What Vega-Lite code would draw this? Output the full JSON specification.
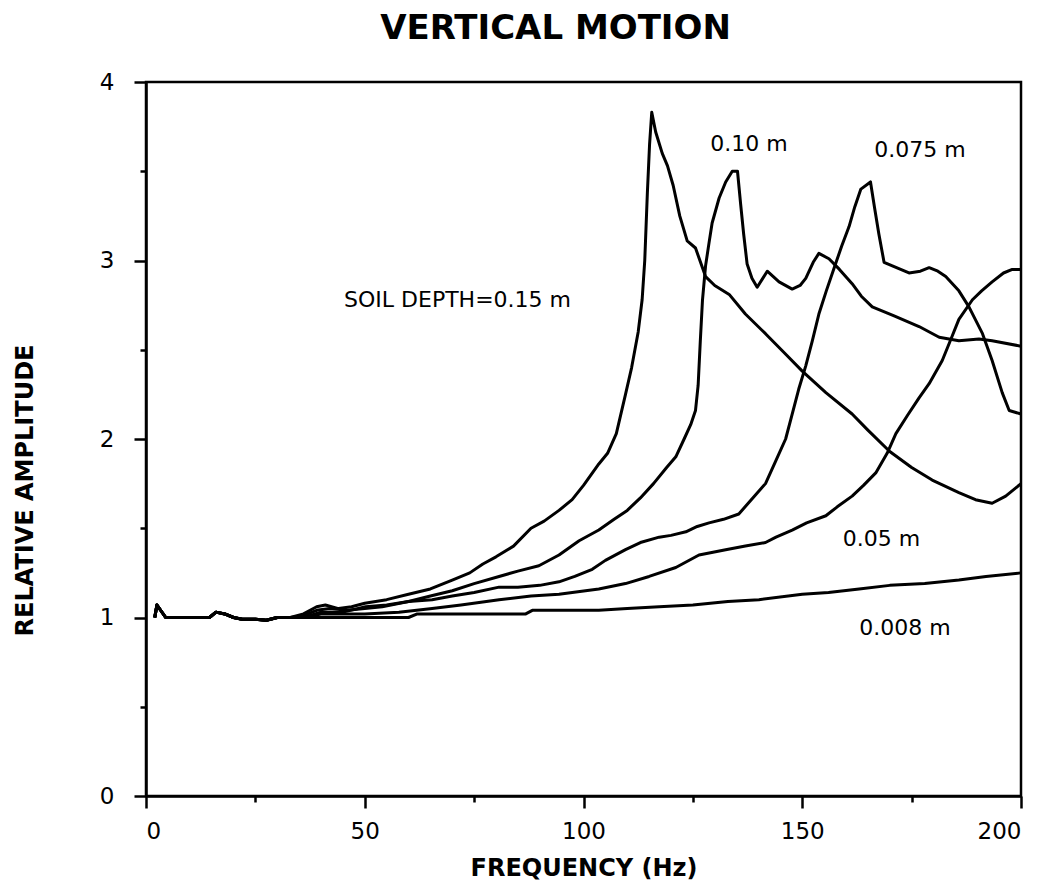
{
  "$schema": "https://vega.github.io/schema/vega-lite/v6.json",
  "width": 875,
  "height": 714,
  "autosize": "none",
  "padding": {"left": 146, "top": 82, "right": 38, "bottom": 97},
  "background": "white",
  "title": {"text": "VERTICAL MOTION", "font": "DejaVu Sans", "fontSize": 34, "fontWeight": "bold", "color": "black", "anchor": "middle", "dx": -28, "baseline": "alphabetic", "offset": -2},
  "config": {
    "view": {"stroke": "black", "strokeWidth": 2.5},
    "axis": {"grid": false, "domainColor": "black", "domainWidth": 2.5, "tickColor": "black", "tickWidth": 2.5, "labelColor": "black", "labelFont": "DejaVu Sans", "labelFontSize": 23, "titleColor": "black", "titleFont": "DejaVu Sans", "titleFontWeight": "bold"}
  },
  "datasets": {
    "curves": [
      {"depth":"0.15","f":2,"A":1.0},{"depth":"0.15","f":2.5,"A":1.07},{"depth":"0.15","f":4.5,"A":1.0},{"depth":"0.15","f":10,"A":1.0},{"depth":"0.15","f":14.5,"A":1.0},{"depth":"0.15","f":16,"A":1.03},{"depth":"0.15","f":18,"A":1.02},{"depth":"0.15","f":20,"A":1.0},{"depth":"0.15","f":22,"A":0.99},{"depth":"0.15","f":25,"A":0.99},{"depth":"0.15","f":27.5,"A":0.985},{"depth":"0.15","f":30,"A":1.0},{"depth":"0.15","f":33,"A":1.0},
      {"depth":"0.15","f":36,"A":1.02},{"depth":"0.15","f":39,"A":1.06},{"depth":"0.15","f":41,"A":1.07},{"depth":"0.15","f":44,"A":1.05},{"depth":"0.15","f":47,"A":1.06},{"depth":"0.15","f":50,"A":1.08},{"depth":"0.15","f":55,"A":1.1},{"depth":"0.15","f":60,"A":1.13},{"depth":"0.15","f":65,"A":1.16},{"depth":"0.15","f":70,"A":1.21},{"depth":"0.15","f":74,"A":1.25},{"depth":"0.15","f":77,"A":1.3},{"depth":"0.15","f":80,"A":1.34},{"depth":"0.15","f":84,"A":1.4},{"depth":"0.15","f":88,"A":1.5},{"depth":"0.15","f":91,"A":1.54},{"depth":"0.15","f":94.4,"A":1.6},{"depth":"0.15","f":97.4,"A":1.66},{"depth":"0.15","f":100,"A":1.74},{"depth":"0.15","f":103.5,"A":1.86},{"depth":"0.15","f":105.5,"A":1.92},{"depth":"0.15","f":107.5,"A":2.03},{"depth":"0.15","f":109.6,"A":2.25},{"depth":"0.15","f":111,"A":2.4},{"depth":"0.15","f":112.5,"A":2.6},{"depth":"0.15","f":113.4,"A":2.78},{"depth":"0.15","f":114,"A":3.0},{"depth":"0.15","f":114.6,"A":3.38},{"depth":"0.15","f":115.1,"A":3.65},{"depth":"0.15","f":115.6,"A":3.83},{"depth":"0.15","f":116.5,"A":3.72},{"depth":"0.15","f":118,"A":3.6},{"depth":"0.15","f":119.2,"A":3.53},{"depth":"0.15","f":120.5,"A":3.42},{"depth":"0.15","f":122,"A":3.25},{"depth":"0.15","f":123.7,"A":3.11},{"depth":"0.15","f":125.6,"A":3.07},{"depth":"0.15","f":127.9,"A":2.91},{"depth":"0.15","f":130,"A":2.86},{"depth":"0.15","f":133.3,"A":2.81},{"depth":"0.15","f":137,"A":2.7},{"depth":"0.15","f":141.6,"A":2.59},{"depth":"0.15","f":146,"A":2.48},{"depth":"0.15","f":150,"A":2.38},{"depth":"0.15","f":155.4,"A":2.26},{"depth":"0.15","f":161.4,"A":2.14},{"depth":"0.15","f":165,"A":2.05},{"depth":"0.15","f":170,"A":1.93},{"depth":"0.15","f":175,"A":1.84},{"depth":"0.15","f":179.7,"A":1.77},{"depth":"0.15","f":185.8,"A":1.7},{"depth":"0.15","f":189.6,"A":1.66},{"depth":"0.15","f":193.4,"A":1.64},{"depth":"0.15","f":196.5,"A":1.68},{"depth":"0.15","f":200,"A":1.75},

      {"depth":"0.10","f":2,"A":1.0},{"depth":"0.10","f":2.5,"A":1.07},{"depth":"0.10","f":4.5,"A":1.0},{"depth":"0.10","f":10,"A":1.0},{"depth":"0.10","f":14.5,"A":1.0},{"depth":"0.10","f":16,"A":1.03},{"depth":"0.10","f":18,"A":1.02},{"depth":"0.10","f":20,"A":1.0},{"depth":"0.10","f":22,"A":0.99},{"depth":"0.10","f":25,"A":0.99},{"depth":"0.10","f":27.5,"A":0.985},{"depth":"0.10","f":30,"A":1.0},{"depth":"0.10","f":33,"A":1.0},
      {"depth":"0.10","f":36,"A":1.01},{"depth":"0.10","f":39,"A":1.04},{"depth":"0.10","f":42,"A":1.05},{"depth":"0.10","f":46,"A":1.04},{"depth":"0.10","f":50,"A":1.05},{"depth":"0.10","f":54,"A":1.06},{"depth":"0.10","f":60,"A":1.09},{"depth":"0.10","f":65,"A":1.12},{"depth":"0.10","f":70,"A":1.15},{"depth":"0.10","f":75,"A":1.19},{"depth":"0.10","f":80.7,"A":1.23},{"depth":"0.10","f":85,"A":1.26},{"depth":"0.10","f":89.8,"A":1.29},{"depth":"0.10","f":94.4,"A":1.35},{"depth":"0.10","f":99,"A":1.43},{"depth":"0.10","f":103.5,"A":1.49},{"depth":"0.10","f":107,"A":1.55},{"depth":"0.10","f":110,"A":1.6},{"depth":"0.10","f":113,"A":1.67},{"depth":"0.10","f":116,"A":1.75},{"depth":"0.10","f":119,"A":1.84},{"depth":"0.10","f":121.1,"A":1.9},{"depth":"0.10","f":123,"A":2.0},{"depth":"0.10","f":124.5,"A":2.08},{"depth":"0.10","f":125.6,"A":2.16},{"depth":"0.10","f":126.2,"A":2.3},{"depth":"0.10","f":126.7,"A":2.55},{"depth":"0.10","f":127.2,"A":2.78},{"depth":"0.10","f":127.9,"A":2.97},{"depth":"0.10","f":128.7,"A":3.1},{"depth":"0.10","f":129.4,"A":3.21},{"depth":"0.10","f":131,"A":3.35},{"depth":"0.10","f":132.5,"A":3.44},{"depth":"0.10","f":134,"A":3.5},{"depth":"0.10","f":135.2,"A":3.5},{"depth":"0.10","f":135.9,"A":3.32},{"depth":"0.10","f":136.6,"A":3.15},{"depth":"0.10","f":137.4,"A":2.98},{"depth":"0.10","f":138.5,"A":2.9},{"depth":"0.10","f":139.7,"A":2.85},{"depth":"0.10","f":142,"A":2.94},{"depth":"0.10","f":144.7,"A":2.88},{"depth":"0.10","f":147.7,"A":2.84},{"depth":"0.10","f":149.5,"A":2.86},{"depth":"0.10","f":150.8,"A":2.9},{"depth":"0.10","f":152.5,"A":2.99},{"depth":"0.10","f":153.8,"A":3.04},{"depth":"0.10","f":156.1,"A":3.01},{"depth":"0.10","f":158.5,"A":2.95},{"depth":"0.10","f":161.4,"A":2.87},{"depth":"0.10","f":163.5,"A":2.8},{"depth":"0.10","f":166,"A":2.74},{"depth":"0.10","f":171,"A":2.69},{"depth":"0.10","f":176.7,"A":2.63},{"depth":"0.10","f":181.3,"A":2.57},{"depth":"0.10","f":185.8,"A":2.55},{"depth":"0.10","f":190.4,"A":2.56},{"depth":"0.10","f":193.4,"A":2.55},{"depth":"0.10","f":200,"A":2.52},

      {"depth":"0.075","f":2,"A":1.0},{"depth":"0.075","f":2.5,"A":1.07},{"depth":"0.075","f":4.5,"A":1.0},{"depth":"0.075","f":10,"A":1.0},{"depth":"0.075","f":14.5,"A":1.0},{"depth":"0.075","f":16,"A":1.03},{"depth":"0.075","f":18,"A":1.02},{"depth":"0.075","f":20,"A":1.0},{"depth":"0.075","f":22,"A":0.99},{"depth":"0.075","f":25,"A":0.99},{"depth":"0.075","f":27.5,"A":0.985},{"depth":"0.075","f":30,"A":1.0},{"depth":"0.075","f":33,"A":1.0},
      {"depth":"0.075","f":36,"A":1.0},{"depth":"0.075","f":40,"A":1.03},{"depth":"0.075","f":45,"A":1.03},{"depth":"0.075","f":50.2,"A":1.06},{"depth":"0.075","f":55,"A":1.07},{"depth":"0.075","f":60,"A":1.09},{"depth":"0.075","f":65.4,"A":1.1},{"depth":"0.075","f":70,"A":1.12},{"depth":"0.075","f":75,"A":1.14},{"depth":"0.075","f":80.7,"A":1.17},{"depth":"0.075","f":85,"A":1.17},{"depth":"0.075","f":90,"A":1.18},{"depth":"0.075","f":94.4,"A":1.2},{"depth":"0.075","f":98,"A":1.23},{"depth":"0.075","f":102,"A":1.27},{"depth":"0.075","f":105,"A":1.32},{"depth":"0.075","f":109.6,"A":1.38},{"depth":"0.075","f":113,"A":1.42},{"depth":"0.075","f":117.3,"A":1.45},{"depth":"0.075","f":120,"A":1.46},{"depth":"0.075","f":123.4,"A":1.48},{"depth":"0.075","f":126,"A":1.51},{"depth":"0.075","f":128.7,"A":1.53},{"depth":"0.075","f":132,"A":1.55},{"depth":"0.075","f":135.5,"A":1.58},{"depth":"0.075","f":138,"A":1.65},{"depth":"0.075","f":141.6,"A":1.75},{"depth":"0.075","f":144,"A":1.88},{"depth":"0.075","f":146.2,"A":2.0},{"depth":"0.075","f":147.7,"A":2.14},{"depth":"0.075","f":149.2,"A":2.28},{"depth":"0.075","f":150.8,"A":2.41},{"depth":"0.075","f":152.3,"A":2.55},{"depth":"0.075","f":153.8,"A":2.7},{"depth":"0.075","f":155.5,"A":2.83},{"depth":"0.075","f":157.6,"A":2.98},{"depth":"0.075","f":159,"A":3.08},{"depth":"0.075","f":160.7,"A":3.19},{"depth":"0.075","f":162,"A":3.3},{"depth":"0.075","f":163.4,"A":3.4},{"depth":"0.075","f":165.6,"A":3.44},{"depth":"0.075","f":166.5,"A":3.3},{"depth":"0.075","f":167.5,"A":3.15},{"depth":"0.075","f":168.7,"A":2.99},{"depth":"0.075","f":170.6,"A":2.97},{"depth":"0.075","f":174.4,"A":2.93},{"depth":"0.075","f":177,"A":2.94},{"depth":"0.075","f":179,"A":2.96},{"depth":"0.075","f":181,"A":2.94},{"depth":"0.075","f":182.8,"A":2.91},{"depth":"0.075","f":185.8,"A":2.83},{"depth":"0.075","f":188.1,"A":2.74},{"depth":"0.075","f":191.2,"A":2.59},{"depth":"0.075","f":193.4,"A":2.44},{"depth":"0.075","f":195.7,"A":2.26},{"depth":"0.075","f":197.3,"A":2.16},{"depth":"0.075","f":200,"A":2.14},

      {"depth":"0.05","f":2,"A":1.0},{"depth":"0.05","f":2.5,"A":1.07},{"depth":"0.05","f":4.5,"A":1.0},{"depth":"0.05","f":10,"A":1.0},{"depth":"0.05","f":14.5,"A":1.0},{"depth":"0.05","f":16,"A":1.03},{"depth":"0.05","f":18,"A":1.02},{"depth":"0.05","f":20,"A":1.0},{"depth":"0.05","f":22,"A":0.99},{"depth":"0.05","f":25,"A":0.99},{"depth":"0.05","f":27.5,"A":0.985},{"depth":"0.05","f":30,"A":1.0},{"depth":"0.05","f":33,"A":1.0},
      {"depth":"0.05","f":36,"A":1.0},{"depth":"0.05","f":40,"A":1.02},{"depth":"0.05","f":45,"A":1.02},{"depth":"0.05","f":50,"A":1.02},{"depth":"0.05","f":57.8,"A":1.03},{"depth":"0.05","f":65.4,"A":1.05},{"depth":"0.05","f":72,"A":1.07},{"depth":"0.05","f":80.7,"A":1.1},{"depth":"0.05","f":88,"A":1.12},{"depth":"0.05","f":94.4,"A":1.13},{"depth":"0.05","f":103.5,"A":1.16},{"depth":"0.05","f":109.6,"A":1.19},{"depth":"0.05","f":115,"A":1.23},{"depth":"0.05","f":121.1,"A":1.28},{"depth":"0.05","f":126.4,"A":1.35},{"depth":"0.05","f":132.5,"A":1.38},{"depth":"0.05","f":137,"A":1.4},{"depth":"0.05","f":141.6,"A":1.42},{"depth":"0.05","f":144,"A":1.45},{"depth":"0.05","f":147.7,"A":1.49},{"depth":"0.05","f":151,"A":1.53},{"depth":"0.05","f":155.4,"A":1.57},{"depth":"0.05","f":158,"A":1.62},{"depth":"0.05","f":161.4,"A":1.68},{"depth":"0.05","f":164,"A":1.74},{"depth":"0.05","f":166.8,"A":1.81},{"depth":"0.05","f":169.4,"A":1.92},{"depth":"0.05","f":171.4,"A":2.03},{"depth":"0.05","f":174,"A":2.13},{"depth":"0.05","f":176.7,"A":2.23},{"depth":"0.05","f":179,"A":2.31},{"depth":"0.05","f":182,"A":2.44},{"depth":"0.05","f":184,"A":2.56},{"depth":"0.05","f":185.8,"A":2.67},{"depth":"0.05","f":188.9,"A":2.78},{"depth":"0.05","f":191,"A":2.83},{"depth":"0.05","f":193.4,"A":2.88},{"depth":"0.05","f":196,"A":2.93},{"depth":"0.05","f":198,"A":2.95},{"depth":"0.05","f":200,"A":2.95},

      {"depth":"0.008","f":2,"A":1.0},{"depth":"0.008","f":2.5,"A":1.07},{"depth":"0.008","f":4.5,"A":1.0},{"depth":"0.008","f":10,"A":1.0},{"depth":"0.008","f":14.5,"A":1.0},{"depth":"0.008","f":16,"A":1.03},{"depth":"0.008","f":18,"A":1.02},{"depth":"0.008","f":20,"A":1.0},{"depth":"0.008","f":22,"A":0.99},{"depth":"0.008","f":25,"A":0.99},{"depth":"0.008","f":27.5,"A":0.985},{"depth":"0.008","f":30,"A":1.0},{"depth":"0.008","f":33,"A":1.0},
      {"depth":"0.008","f":36,"A":1.0},{"depth":"0.008","f":40,"A":1.0},{"depth":"0.008","f":50,"A":1.0},{"depth":"0.008","f":60,"A":1.0},{"depth":"0.008","f":62,"A":1.02},{"depth":"0.008","f":70,"A":1.02},{"depth":"0.008","f":80,"A":1.02},{"depth":"0.008","f":86.8,"A":1.02},{"depth":"0.008","f":88.3,"A":1.04},{"depth":"0.008","f":94.4,"A":1.04},{"depth":"0.008","f":103.5,"A":1.04},{"depth":"0.008","f":110,"A":1.05},{"depth":"0.008","f":117.3,"A":1.06},{"depth":"0.008","f":125,"A":1.07},{"depth":"0.008","f":133,"A":1.09},{"depth":"0.008","f":140.1,"A":1.1},{"depth":"0.008","f":150,"A":1.13},{"depth":"0.008","f":156,"A":1.14},{"depth":"0.008","f":163,"A":1.16},{"depth":"0.008","f":170,"A":1.18},{"depth":"0.008","f":178,"A":1.19},{"depth":"0.008","f":185.8,"A":1.21},{"depth":"0.008","f":192,"A":1.23},{"depth":"0.008","f":200,"A":1.25}
    ],
    "labels": [
      {"label": "SOIL DEPTH=0.15 m", "f": 71.2, "A": 2.78},
      {"label": "0.10 m", "f": 137.8, "A": 3.65},
      {"label": "0.075 m", "f": 176.9, "A": 3.62},
      {"label": "0.05 m", "f": 168.1, "A": 1.44},
      {"label": "0.008 m", "f": 173.5, "A": 0.94}
    ]
  },
  "layer": [
    {
      "data": {"name": "curves"},
      "mark": {"type": "line", "color": "black", "strokeWidth": 3, "strokeJoin": "round"},
      "encoding": {
        "x": {"field": "f", "type": "quantitative", "scale": {"domain": [0, 200], "nice": false},
              "axis": {"orient": "bottom", "values": [0, 50, 100, 150, 200], "tickSize": 12, "labelPadding": 12, "title": "FREQUENCY (Hz)", "titleFontSize": 24, "titlePadding": 13}},
        "y": {"field": "A", "type": "quantitative", "scale": {"domain": [0, 4], "nice": false},
              "axis": {"orient": "left", "values": [0, 1, 2, 3, 4], "tickSize": 12, "labelPadding": 20, "title": "RELATIVE AMPLITUDE", "titleFontSize": 24, "titlePadding": 62, "titleY": 408}},
        "detail": {"field": "depth", "type": "nominal"}
      }
    },
    {
      "data": {"name": "curves"},
      "mark": {"type": "line", "opacity": 0},
      "encoding": {
        "x": {"field": "f", "type": "quantitative", "axis": {"orient": "bottom", "values": [25, 75, 125, 175], "tickSize": 6, "labels": false, "domain": false, "title": null}},
        "y": {"field": "A", "type": "quantitative", "axis": {"orient": "left", "values": [0.5, 1.5, 2.5, 3.5], "tickSize": 6, "labels": false, "domain": false, "title": null}},
        "detail": {"field": "depth", "type": "nominal"}
      }
    },
    {
      "data": {"name": "labels"},
      "mark": {"type": "text", "font": "DejaVu Sans", "fontSize": 22, "color": "black", "align": "center", "baseline": "middle"},
      "encoding": {
        "x": {"field": "f", "type": "quantitative", "axis": null},
        "y": {"field": "A", "type": "quantitative", "axis": null},
        "text": {"field": "label"}
      }
    }
  ],
  "resolve": {"axis": {"x": "independent", "y": "independent"}}
}
